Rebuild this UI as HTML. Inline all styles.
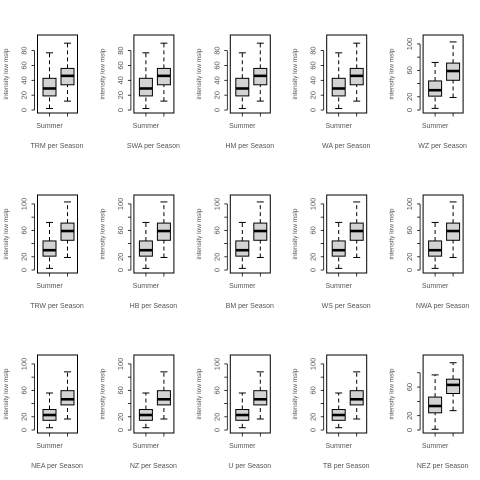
<!DOCTYPE html>
<html><head><meta charset="utf-8"><style>
html,body{margin:0;padding:0;background:#fff;}
svg{display:block;font-family:"Liberation Sans",sans-serif;}
</style></head><body>
<svg id="chart" width="480" height="480" viewBox="0 0 480 480"></svg>
<script>
const titles=["TRM","SWA","HM","WA","WZ","TRW","HB","BM","WS","NWA","NEA","NZ","U","TB","NEZ"];
const yMin=[-4,-4,-4,-4,-4.5,-4.5,-4.5,-4.5,-4.5,-4.5,-4.5,-4.5,-4.5,-4.5,-4.2];
const yMax=[101,101,101,101,113.5,113.5,113.5,113.5,113.5,113.5,113.5,113.5,113.5,113.5,104.8];
const g1Lo=[2,2,2,2,2.5,2.5,2.5,2.5,2.5,2.5,3.5,3.5,3.5,3.5,1];
const g1Q1=[19,19,19,19,21,21,21,21,21,21,14.7,14.7,14.7,14.7,24];
const g1Med=[29,29,29,29,30,30,30,30,30,30,22.7,22.7,22.7,22.7,33.5];
const g1Q3=[42.7,42.7,42.7,42.7,44,44,44,44,44,44,31,31,31,31,46];
const g1Hi=[77,77,77,77,72,72,72,72,72,72,56,56,56,56,77];
const g2Lo=[12,12,12,12,19,19,19,19,19,19,16.7,16.7,16.7,16.7,27];
const g2Q1=[34,34,34,34,45,45,45,45,45,45,38,38,38,38,51];
const g2Med=[46,46,46,46,59,59,59,59,59,59,46.5,46.5,46.5,46.5,63];
const g2Q3=[56,56,56,56,71,71,71,71,71,71,59.5,59.5,59.5,59.5,71];
const g2Hi=[90,90,90,90,103,103,103,103,103,103,88,88,88,88,94];
const ticks=[[0,20,40,60,80],[0,20,40,60,80,100],[0,20,40,60,80]];
const tickLabels=[["0","20","40","60","80"],["0","20","","60","","100"],["0","20","","60",""]];
const ns="http://www.w3.org/2000/svg";
const svg=document.getElementById("chart");
function mk(tag,attrs,parent){const e=document.createElementNS(ns,tag);for(const k in attrs)e.setAttribute(k,attrs[k]);(parent||svg).appendChild(e);return e;}
const grey="#555";
for(let i=0;i<15;i++){
  const col=i%5,row=Math.floor(i/5);
  const ox=col*96.4, oy=row*160;
  const L=ox+37.5,R=ox+77.5,T=oy+35,B=oy+113;
  const y=v=>B-(v-yMin[i])/(yMax[i]-yMin[i])*(B-T);
  const tt=i===14?2:(yMax[i]>110?1:0);
  const g=mk("g",{});
  
  
  const frame=mk("rect",{x:L,y:T,width:R-L,height:B-T,fill:"none",stroke:"#000","stroke-width":1},g);
  
  
  const ticksV=ticks[tt];
  mk("line",{x1:L-3,x2:L-3,y1:y(ticksV[0]),y2:y(ticksV[ticksV.length-1]),stroke:"#000","stroke-width":0.8},g);
  ticksV.forEach((v,k)=>{
    mk("line",{x1:L-6,x2:L-3,y1:y(v),y2:y(v),stroke:"#000","stroke-width":0.8},g);
    const lab=tickLabels[tt][k];
    if(lab){const t=mk("text",{x:L-11,y:y(v),"font-size":7.5,fill:grey,"text-anchor":"middle",transform:`rotate(-90 ${L-11} ${y(v)})`},g);t.textContent=lab;
      
      }
  });
  const yl=mk("text",{x:ox+8,y:(T+B)/2,"font-size":6.5,fill:grey,"text-anchor":"middle",transform:`rotate(-90 ${ox+8} ${(T+B)/2})`},g);
  yl.textContent="intensity low mslp";
  
  
  const cx=[ox+49.5,ox+67.5];
  cx.forEach(c=>mk("line",{x1:c,x2:c,y1:B,y2:B+3.5,stroke:"#000","stroke-width":0.8},g));
  const xl=mk("text",{x:cx[0],y:B+15,"font-size":7,fill:grey,"text-anchor":"middle"},g);
  xl.textContent="Summer";
  
  
  const ti=mk("text",{x:ox+57,y:oy+148,"font-size":7,fill:grey,"text-anchor":"middle"},g);
  ti.textContent=titles[i]+" per Season";
  
  
  const stats=[[g1Lo[i],g1Q1[i],g1Med[i],g1Q3[i],g1Hi[i]],[g2Lo[i],g2Q1[i],g2Med[i],g2Q3[i],g2Hi[i]]];
  stats.forEach((s,k)=>{
    const c=cx[k],hw=6.5;
    const bg=mk("g",{},g);
    
    
    mk("line",{x1:c,x2:c,y1:y(s[0]),y2:y(s[1]),stroke:"#000","stroke-width":1,"stroke-dasharray":"4,3"},bg);
    mk("line",{x1:c,x2:c,y1:y(s[3]),y2:y(s[4]),stroke:"#000","stroke-width":1,"stroke-dasharray":"4,3"},bg);
    mk("line",{x1:c-3.5,x2:c+3.5,y1:y(s[0]),y2:y(s[0]),stroke:"#000","stroke-width":1},bg);
    mk("line",{x1:c-3.5,x2:c+3.5,y1:y(s[4]),y2:y(s[4]),stroke:"#000","stroke-width":1},bg);
    mk("rect",{x:c-hw,y:y(s[3]),width:2*hw,height:y(s[1])-y(s[3]),fill:"#d3d3d3",stroke:"#000","stroke-width":1},bg);
    mk("line",{x1:c-hw,x2:c+hw,y1:y(s[2]),y2:y(s[2]),stroke:"#000","stroke-width":2.6},bg);
  });
}
</script>
</body></html>
